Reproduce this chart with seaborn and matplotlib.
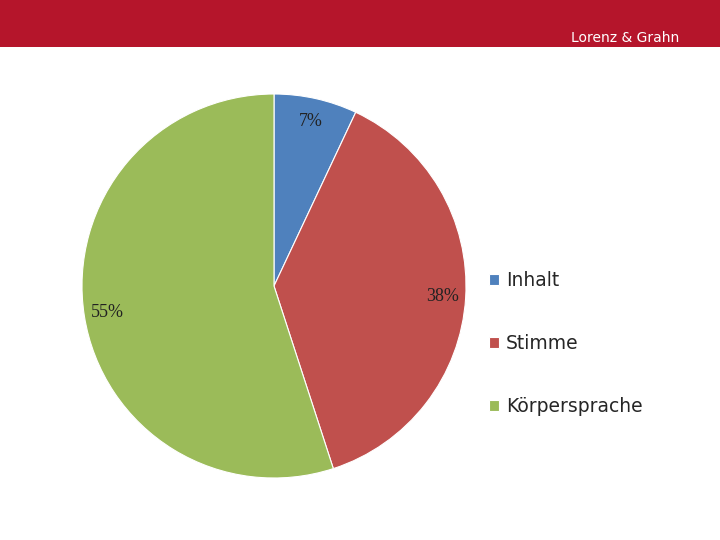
import matplotlib
matplotlib.use("Agg")
import matplotlib.pyplot as plt
import seaborn as sns

categories = ["Inhalt", "Stimme", "Körpersprache"]
shares = [7, 38, 55]
colors = ["#4F81BD", "#C0504D", "#9BBB59"]

sns.set_style("white")
fig = plt.figure(figsize=(7.2, 5.4), dpi=100)

# red banner on top
banner = fig.add_axes([0, 1 - 47 / 540, 1, 47 / 540])
banner.set_facecolor("#B5152B")
banner.set_xticks([])
banner.set_yticks([])
for s in banner.spines.values():
    s.set_visible(False)
fig.text(625 / 720, 1 - 38 / 540, "Lorenz & Grahn", color="white",
         fontsize=10, ha="center", va="center", family="DejaVu Sans")

ax = fig.add_axes([82 / 720, 62 / 540, 384 / 720, 384 / 540])
wedges, texts, autotexts = ax.pie(
    shares, colors=colors, startangle=90, counterclock=False,
    autopct="%d%%", pctdistance=0.88,
    wedgeprops=dict(edgecolor="white", linewidth=0.8),
    textprops=dict(family="Liberation Serif", fontsize=13, color="#222222"))
ax.set_aspect("equal")
ax.set_xlim(-1, 1)
ax.set_ylim(-1, 1)

fig.legend(wedges, categories, loc="upper left",
           bbox_to_anchor=(472 / 720, 1 - 254 / 540), frameon=False,
           handlelength=0.55, handleheight=0.55, handletextpad=0.35,
           labelspacing=2.35, prop=dict(family="DejaVu Sans", size=13.5))

fig.savefig("out.png", dpi=100)
